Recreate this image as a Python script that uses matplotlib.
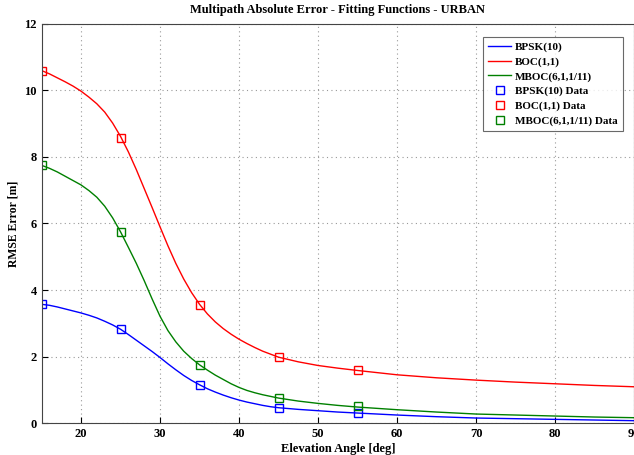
import matplotlib
matplotlib.use("Agg")
import matplotlib.pyplot as plt

# ── Data ───────────────────────────────────────────────────────
# Fitted curves
fit_angle = [15, 16, 17, 18, 19, 20, 21, 22, 23, 24, 25, 26, 27, 28, 29, 30,
             31, 32, 33, 34, 35, 36, 37, 38, 39, 40, 41, 42, 43, 44, 45,
             47.5, 50, 52.5, 55, 60, 65, 70, 75, 80, 85, 90]
fit_bpsk = [3.57, 3.54, 3.49, 3.43, 3.37, 3.31, 3.24, 3.16, 3.06, 2.95, 2.82,
            2.66, 2.49, 2.32, 2.15, 1.97, 1.78, 1.60, 1.43, 1.28, 1.15, 1.03,
            0.93, 0.84, 0.76, 0.69, 0.63, 0.58, 0.53, 0.49, 0.46,
            0.41, 0.37, 0.33, 0.30, 0.24, 0.19, 0.15, 0.13, 0.11, 0.09, 0.07]
fit_boc = [10.60, 10.50, 10.38, 10.26, 10.13, 9.98, 9.80, 9.60, 9.35, 9.02,
           8.62, 8.15, 7.62, 7.05, 6.48, 5.90, 5.33, 4.80, 4.33, 3.92, 3.57,
           3.28, 3.04, 2.84, 2.67, 2.52, 2.39, 2.27, 2.16, 2.07, 1.98,
           1.84, 1.73, 1.65, 1.58, 1.45, 1.36, 1.29, 1.23, 1.18, 1.13, 1.09]
fit_mboc = [7.75, 7.66, 7.55, 7.42, 7.29, 7.16, 6.99, 6.79, 6.52, 6.17, 5.75,
            5.28, 4.80, 4.28, 3.73, 3.21, 2.78, 2.44, 2.16, 1.94, 1.75, 1.59,
            1.44, 1.31, 1.18, 1.07, 0.98, 0.91, 0.85, 0.80, 0.75,
            0.66, 0.59, 0.53, 0.48, 0.40, 0.33, 0.27, 0.24, 0.21, 0.18, 0.16]

# Simulation data points
data_angle = [15, 25, 35, 45, 55]
data_bpsk = [3.57, 2.83, 1.15, 0.45, 0.31]
data_boc = [10.6, 8.58, 3.55, 1.98, 1.58]
data_mboc = [7.75, 5.75, 1.75, 0.75, 0.50]

LABELS = ["BPSK(10)", "BOC(1,1)", "MBOC(6,1,1/11)"]
COLORS = ["#0000ff", "#ff0000", "#008000"]
# ───────────────────────────────────────────────────────────────

plt.rcParams["font.family"] = "Liberation Serif"
plt.rcParams["font.weight"] = "bold"

fig = plt.figure(figsize=(6.34, 4.55), dpi=100)
ax = fig.add_axes([0.0655, 0.0703, 0.9345, 0.877])

fits = [fit_bpsk, fit_boc, fit_mboc]
datas = [data_bpsk, data_boc, data_mboc]

for vals, lab, col in zip(fits, LABELS, COLORS):
    ax.plot(fit_angle, vals, color=col, linewidth=1.0, label=lab)
for vals, lab, col in zip(datas, LABELS, COLORS):
    ax.plot(data_angle, vals, linestyle="none", marker="s", markersize=6,
            markerfacecolor="none", markeredgecolor=col, markeredgewidth=1.0,
            label=lab + " Data")

ax.set_xlim(15, 90)
ax.set_ylim(0, 12)
ax.set_xticks(range(20, 91, 10))
ax.set_yticks(range(0, 13, 2))
ax.tick_params(direction="in", labelsize=9, length=4)
for lbl in ax.get_xticklabels() + ax.get_yticklabels():
    lbl.set_fontweight("bold")
ax.grid(True, linestyle=(0, (1, 3)), color="#999999", linewidth=0.8)
for sp in ax.spines.values():
    sp.set_color("#444444")
    sp.set_linewidth(0.8)

ax.set_title("Multipath Absolute Error - Fitting Functions - URBAN",
             fontsize=9, fontweight="bold", pad=8)
ax.set_xlabel("Elevation Angle [deg]", fontsize=9, fontweight="bold", labelpad=2)
ax.set_ylabel("RMSE Error [m]", fontsize=8.5, fontweight="bold", labelpad=3)

leg = ax.legend(loc="upper right", bbox_to_anchor=(0.981, 0.967), fontsize=8,
                frameon=True, fancybox=False, edgecolor="#444444",
                handlelength=2.0, handletextpad=0.4, borderpad=0.45,
                labelspacing=0.42, borderaxespad=0)
leg.get_frame().set_linewidth(0.8)
for t in leg.get_texts():
    t.set_fontweight("bold")

fig.savefig("out.png", dpi=100)
